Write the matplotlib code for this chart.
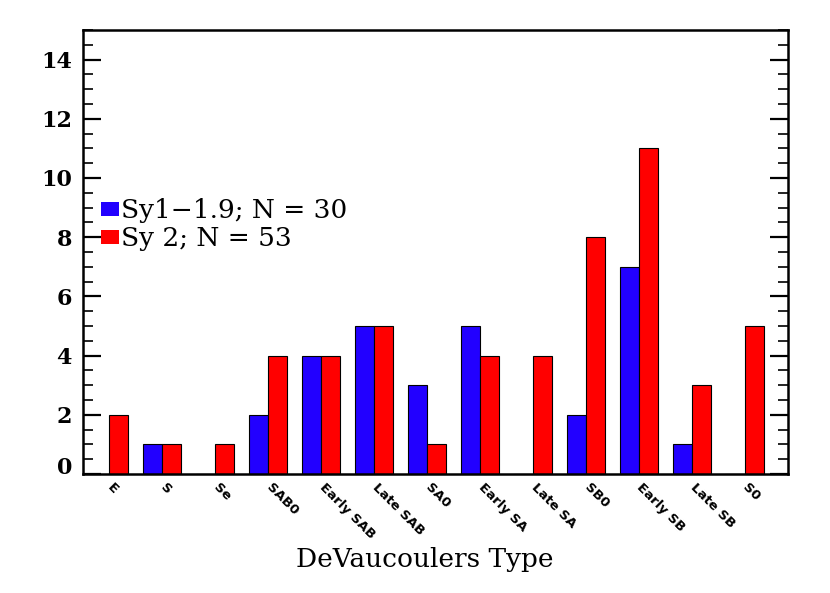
import matplotlib
matplotlib.use("Agg")
import matplotlib.pyplot as plt
import matplotlib.transforms as mtransforms
from matplotlib.patches import Patch
import numpy as np

# ======================================
# DATA
# ======================================
types = ["E", "S", "Se", "SAB0", "Early SAB", "Late SAB", "SA0",
         "Early SA", "Late SA", "SB0", "Early SB", "Late SB", "S0"]
sy1_counts = [0, 1, 0, 2, 4, 5, 3, 5, 0, 2, 7, 1, 0]
sy2_counts = [2, 1, 1, 4, 4, 5, 1, 4, 4, 8, 11, 3, 5]
sy1_label = "Sy1\u22121.9; N = 30"
sy2_label = "Sy 2; N = 53"

BLUE = "#2200ff"
RED = "#ff0000"

# ======================================
# PLOT
# ======================================
fig = plt.figure(figsize=(8.3, 5.93), dpi=100)
ax = fig.add_axes([83 / 830, 119 / 593, 705 / 830, 444 / 593])

x = np.arange(len(types))
w = 0.36
ax.bar(x - w / 2, sy1_counts, width=w, color=BLUE, edgecolor="black", linewidth=0.8)
ax.bar(x + w / 2, sy2_counts, width=w, color=RED, edgecolor="black", linewidth=0.8)

ax.set_xlim(-0.49, 12.82)
ax.set_ylim(0, 15)

for side in ax.spines:
    ax.spines[side].set_linewidth(1.8)

ax.set_yticks(np.arange(0, 15, 2))
ax.set_yticks(np.arange(0, 15.01, 0.5), minor=True)
ax.tick_params(axis="y", which="major", direction="in", length=13, width=1.6,
               right=True, labelsize=16, pad=8)
ax.tick_params(axis="y", which="minor", direction="in", length=7, width=1.2, right=True)
for lab in ax.get_yticklabels():
    lab.set_fontfamily("DejaVu Serif")
    lab.set_fontweight("bold")
# IDL nudges the zero label up off the x axis
zero = ax.get_yticklabels()[0]
zero.set_transform(zero.get_transform() +
                   mtransforms.ScaledTranslation(0, 9 / 100, fig.dpi_scale_trans))

ax.set_xticks(x)
ax.set_xticklabels(types, rotation=-45, ha="left", va="top", rotation_mode="anchor",
                   fontsize=9.5, fontweight="bold")
ax.tick_params(axis="x", length=0, pad=5)
shift = mtransforms.ScaledTranslation(5 / 100, 0, fig.dpi_scale_trans)
for lab in ax.get_xticklabels():
    lab.set_transform(lab.get_transform() + shift)

handles = [Patch(facecolor=BLUE, edgecolor="none"), Patch(facecolor=RED, edgecolor="none")]
ax.legend(handles, [sy1_label, sy2_label], loc="upper left",
          bbox_to_anchor=(0.011, 0.645), frameon=False,
          prop={"family": "DejaVu Serif", "size": 19},
          handlelength=0.68, handleheight=0.45, handletextpad=0.05,
          labelspacing=0.12, borderaxespad=0)

fig.text(425 / 830, 33 / 593, "DeVaucoulers Type", ha="center", va="center",
         fontsize=19, fontfamily="DejaVu Serif")

plt.savefig("out.png", dpi=100)
plt.close()
